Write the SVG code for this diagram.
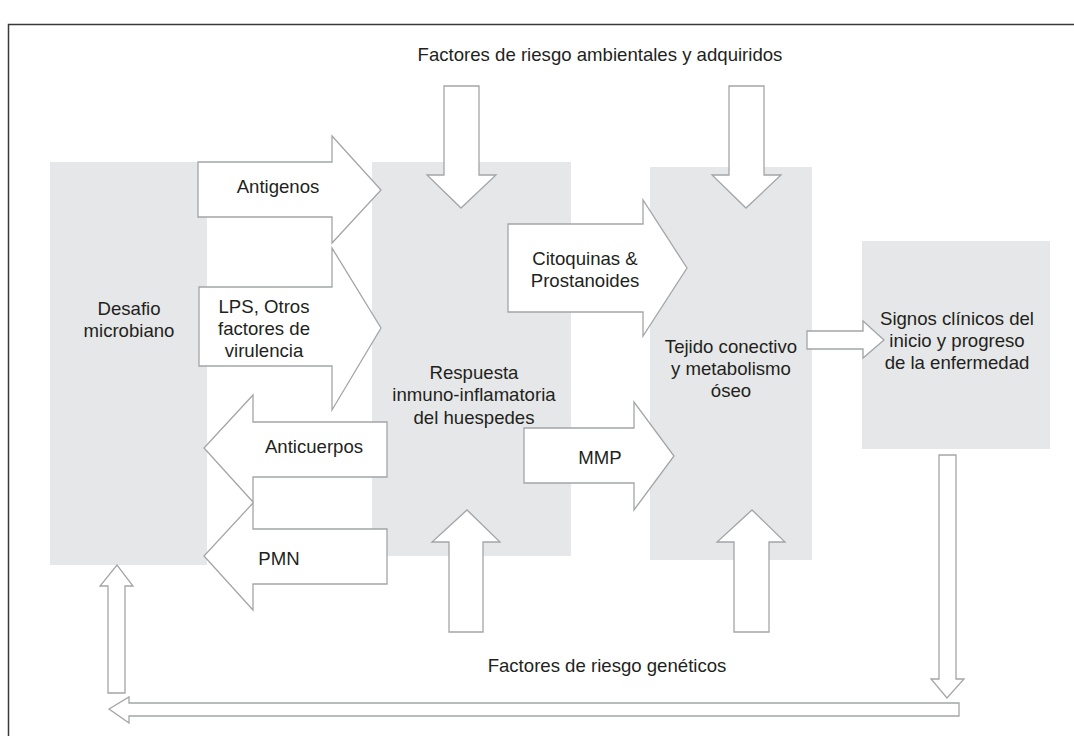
<svg xmlns="http://www.w3.org/2000/svg" width="1074" height="736" viewBox="0 0 1074 736">
<style>
.box{fill:#e6e7e8;stroke:none}
.arr{fill:#ffffff;stroke:#a3a5a8;stroke-width:1.3;stroke-linejoin:miter}
text{font-family:"Liberation Sans",Arial,sans-serif;font-size:18.6px;fill:#231f20;text-anchor:middle}
</style>
<rect width="1074" height="736" fill="#ffffff"/>
<rect x="8.5" y="24.5" width="1100" height="800" fill="none" stroke="#3a3a3a" stroke-width="1.5"/>
<g id="desafio"><rect class="box" x="50" y="162" width="157" height="403"/><text x="129" y="315">Desafio</text><text x="129" y="337">microbiano</text></g>
<g id="respuesta"><rect class="box" x="372" y="162" width="199" height="394"/><text x="474" y="379">Respuesta</text><text x="474" y="401">inmuno-inflamatoria</text><text x="474" y="424">del huespedes</text></g>
<g id="tejido"><rect class="box" x="650" y="167" width="162" height="393"/><text x="731" y="353">Tejido conectivo</text><text x="731" y="375">y metabolismo</text><text x="731" y="397">óseo</text></g>
<g id="signos"><rect class="box" x="862" y="241" width="188" height="208"/><text x="957" y="325">Signos clínicos del</text><text x="957" y="347">inicio y progreso</text><text x="957" y="369">de la enfermedad</text></g>
<g id="connectors">
<polygon class="arr" points="198,162 332,162 332,136 381,190 332,243 332,217 198,217"/>
<polygon class="arr" points="199,287 332,287 332,248 381,328 332,410 332,366 199,366"/>
<polygon class="arr" points="387,422 253,422 253,395 204,448 253,502 253,477 387,477"/>
<polygon class="arr" points="387,529 253,529 253,503 204,556 253,610 253,584 387,584"/>
<polygon class="arr" points="508,224 643,224 643,200 687,268 643,336 643,312 508,312"/>
<polygon class="arr" points="524,428 634,428 634,402 674,456 634,510 634,483 524,483"/>
<polygon class="arr" points="444,86 479,86 479,175 496,175 461,208 427,175 444,175"/>
<polygon class="arr" points="729,86 764,86 764,175 781,175 746,208 712,175 729,175"/>
<polygon class="arr" points="449,632 483,632 483,542 500,542 467,510 432,542 449,542"/>
<polygon class="arr" points="734,632 769,632 769,542 785,542 752,510 717,542 734,542"/>
<polygon class="arr" points="807,331 863,331 863,321 884,340 863,358 863,349 807,349"/>
<polygon class="arr" points="939,455 956,455 956,679 964,679 947,698 931,679 939,679"/>
<polygon class="arr" points="959,703 129,703 129,697 109,709 129,723 129,716 959,716"/>
<polygon class="arr" points="108,693 125,693 125,586 133,586 117,565 100,586 108,586"/>
<text x="278" y="193">Antigenos</text>
<text x="264" y="313">LPS, Otros</text><text x="264" y="335">factores de</text><text x="264" y="357">virulencia</text>
<text x="314" y="453">Anticuerpos</text>
<text x="279" y="565">PMN</text>
<text x="585" y="265">Citoquinas &amp;</text><text x="585" y="287">Prostanoides</text>
<text x="600" y="464">MMP</text>
</g>
<text x="600" y="61">Factores de riesgo ambientales y adquiridos</text>
<text x="607" y="672">Factores de riesgo genéticos</text>
</svg>
